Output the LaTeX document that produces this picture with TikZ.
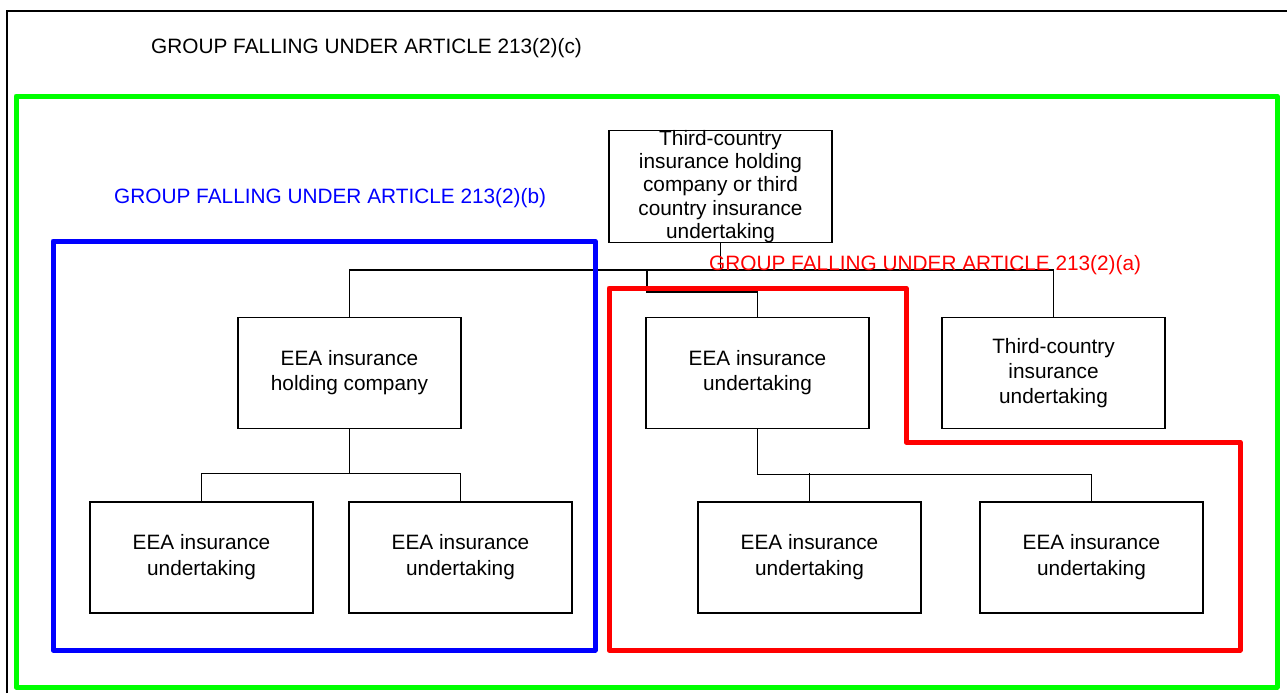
\documentclass[tikz,border=0pt]{standalone}
\usepackage{fontspec}
\setmainfont{Liberation Sans}
\usetikzlibrary{positioning}

\begin{document}
\begin{tikzpicture}[x=1pt,y=-1pt,
  caja/.style={draw,line width=1.4pt,minimum width=223pt,minimum height=111pt,
    align=center,inner sep=0pt,font=\fontsize{20.8}{25}\selectfont},
  linea/.style={line width=1.4pt},
  marco/.style={line width=5pt,line join=round},
  titulo/.style={anchor=base west,inner sep=0pt,font=\fontsize{20.8}{25}\selectfont}]
        \useasboundingbox (0,0) rectangle (1287,693);
        \draw[line width=2pt] (7,693) -- (7,11) -- (1287,11); % marco exterior
        % cajas
        \node[caja,font=\fontsize{20.8}{23.3}\selectfont] (top) at (720.5,186.5)
          {Third-country\\insurance holding\\company or third\\country insurance\\undertaking};
        \node[caja] (hold) at (349.5,373) {EEA insurance\\holding company};
        \node[caja] (und) at (757.5,373) {EEA insurance\\undertaking};
        \node[caja] (tc) at (1053.5,373) {Third-country\\insurance\\undertaking};
        \node[caja,font=\fontsize{20.8}{26}\selectfont] (b1) at (201.5,557.5) {EEA insurance\\undertaking};
        \node[caja,font=\fontsize{20.8}{26}\selectfont] (b2) at (460.5,557.5) {EEA insurance\\undertaking};
        \node[caja,font=\fontsize{20.8}{26}\selectfont] (b3) at (809.5,557.5) {EEA insurance\\undertaking};
        \node[caja,font=\fontsize{20.8}{26}\selectfont] (b4) at (1091.5,557.5) {EEA insurance\\undertaking};
        \coordinate (rama) at (647,270);
        % conexiones
        \draw[linea] (top.south) -- (top.south |- rama);
        \draw[linea] (hold.north) -- ++(0,-47) -| (tc.north);
        \draw[linea] (und.north) -- ++(0,-25) -| (rama);
        \draw[linea] (hold.south) -- ++(0,45);
        \draw[linea] (b1.north) -- ++(0,-28) -| (b2.north);
        \draw[linea] (und.south) -- ++(0,45) -| (b4.north);
        \draw[linea] (b3.north) -- ++(0,-28);
        % grupos
        \draw[marco,green] (16,96) rectangle (1277,687);
        \draw[marco,blue] (53,241) rectangle (595,650);
        \draw[marco,red] (609,288) -- (906,288) -- (906,442) -- (1240,442)
          -- (1240,650) -- (609,650) -- cycle;
        \node[titulo] (gc) at (151,54) {GROUP FALLING UNDER ARTICLE 213(2)(c)};
        \node[titulo,blue] (gb) at (114,203) {GROUP FALLING UNDER ARTICLE 213(2)(b)};
        \node[titulo,red] (ga) at (709,270) {GROUP FALLING UNDER ARTICLE 213(2)(a)};
\end{tikzpicture}
\end{document}
